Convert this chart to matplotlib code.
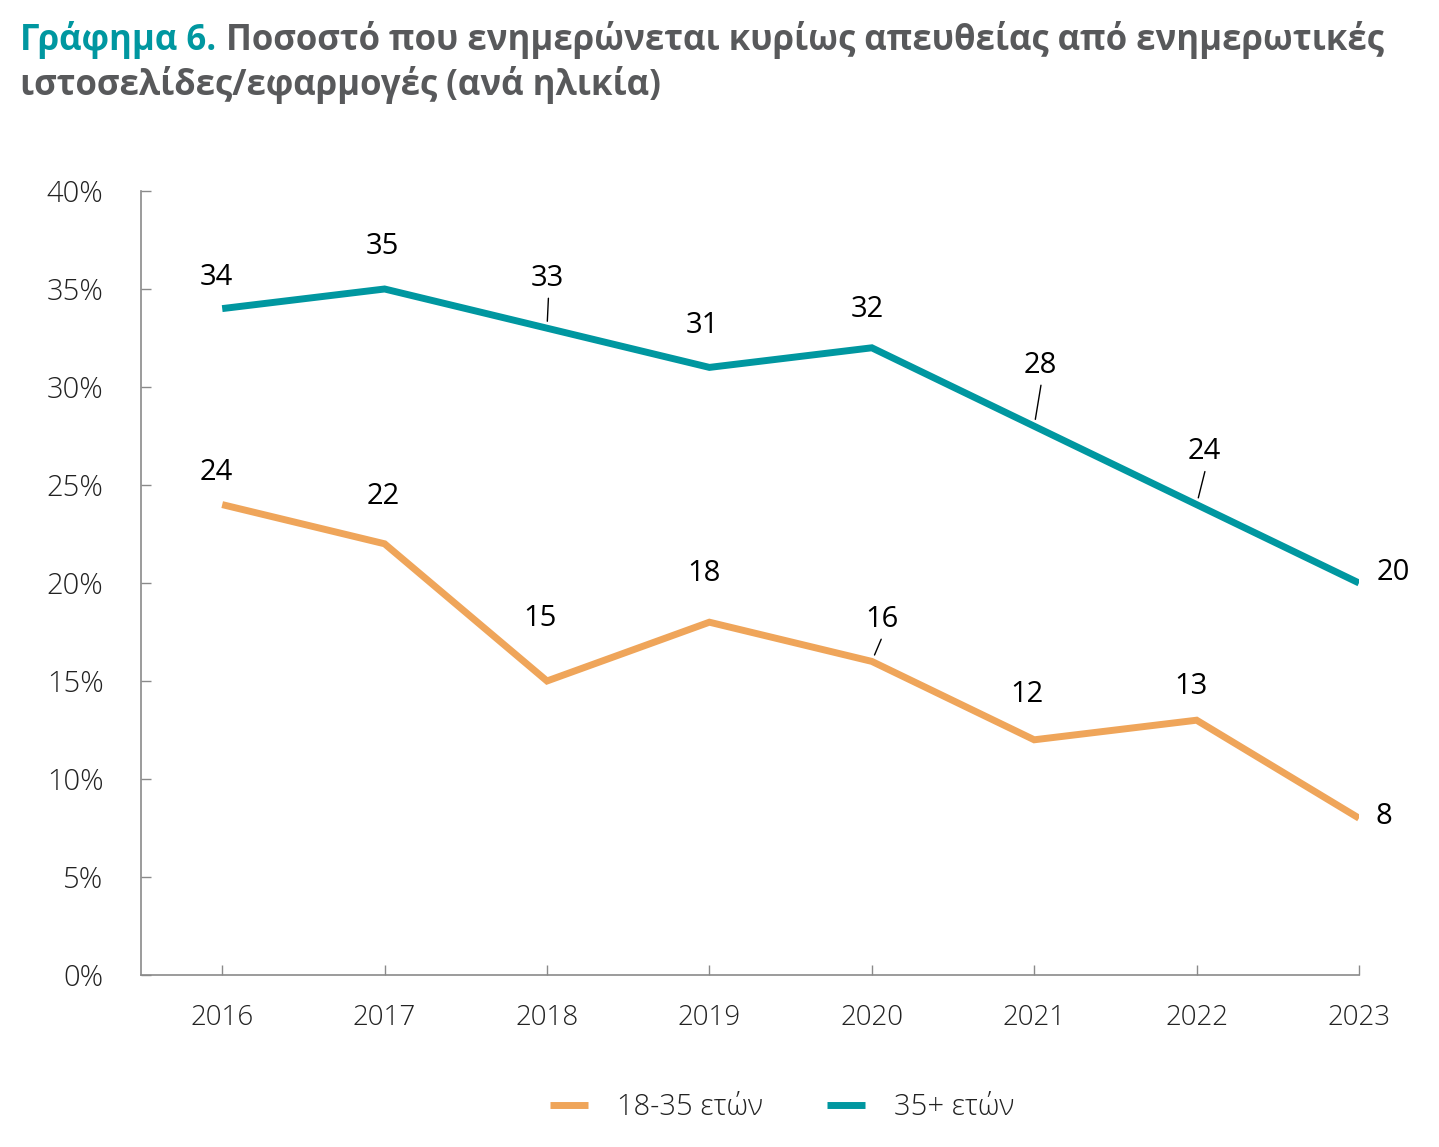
import matplotlib
matplotlib.use("Agg")
import matplotlib.pyplot as plt
import numpy as np

# data
years = ["2016", "2017", "2018", "2019", "2020", "2021", "2022", "2023"]
young = [24, 22, 15, 18, 16, 12, 13, 8]      # 18-35 ετών
older = [34, 35, 33, 31, 32, 28, 24, 20]     # 35+ ετών
series_names = ["18-35 ετών", "35+ ετών"]
yticks = [0, 5, 10, 15, 20, 25, 30, 35, 40]

ORANGE = "#EFA55A"
TEAL = "#0097A0"
GREY = "#8A8A8A"
TITLE_GREY = "#58595B"

# label offsets in pixels (dx, dy), and which labels get a leader line
off_older = [(-6, 31), (-2, 42), (0, 50), (-7, 42), (-4, 38), (6, 61), (8, 53), (34, 11)]
lead_older = [False, False, True, False, False, True, True, False]
off_young = [(-6, 32), (-1, 47), (-7, 63), (-5, 49), (10, 42), (-7, 45), (-6, 34), (25, 2)]
lead_young = [False, False, False, False, True, False, False, False]

plt.rcParams["font.family"] = ["Open Sans", "DejaVu Sans"]

fig = plt.figure(figsize=(14.39, 11.47), dpi=100)
ax = fig.add_axes([141 / 1439, 1 - 975 / 1147, (1359 - 141) / 1439, (975 - 191) / 1147])

x = np.arange(len(years))
ax.plot(x, young, color=ORANGE, lw=5, solid_capstyle="butt", solid_joinstyle="miter",
        label=series_names[0])
ax.plot(x, older, color=TEAL, lw=5, solid_capstyle="butt", solid_joinstyle="miter",
        label=series_names[1])


def label_series(vals, offs, leads):
    for i, v in enumerate(vals):
        dx, dy = offs[i]
        kw = {}
        if leads[i]:
            kw["arrowprops"] = dict(arrowstyle="-", lw=1, color="black",
                                    relpos=(0.55, 0.0), shrinkA=2, shrinkB=5)
        ax.annotate(str(v), xy=(i, v), xytext=(dx, dy), textcoords="offset pixels",
                    ha="center", va="center", fontsize=21, color="black", **kw)


label_series(older, off_older, lead_older)
label_series(young, off_young, lead_young)

ax.set_xlim(-0.5, len(years) - 1)
ax.set_ylim(0, 40)
ax.set_yticks(yticks)
ax.set_yticklabels([f"{t}%" for t in yticks])
ax.set_xticks(x)
ax.set_xticklabels(years)

for s in ["top", "right"]:
    ax.spines[s].set_visible(False)
for s in ["left", "bottom"]:
    ax.spines[s].set_color(GREY)
    ax.spines[s].set_linewidth(1.2)
ax.tick_params(axis="y", direction="in", length=7, width=1, color=GREY, pad=27,
               labelsize=21, labelcolor="#222222")
ax.tick_params(axis="x", direction="in", length=7, width=1, color=GREY, pad=21,
               labelsize=20, labelcolor="#222222")
for lab in ax.get_yticklabels() + ax.get_xticklabels():
    lab.set_fontweight("light")

leg = fig.legend(loc="center", bbox_to_anchor=(782 / 1439, 1 - 1107 / 1147), ncol=2,
                 frameon=False, fontsize=21, handlelength=1.3, handletextpad=1.0,
                 columnspacing=2.2)
for h in leg.get_lines():
    h.set_linewidth(5)
for t in leg.get_texts():
    t.set_color("#222222")
    t.set_fontweight("light")

# two-colour title
r = fig.canvas.get_renderer()
t1 = fig.text(20 / 1439, 1 - 40 / 1147, "Γράφημα 6.", color=TEAL, fontsize=25,
              fontweight="bold", va="center", ha="left")
bb = t1.get_window_extent(renderer=r)
fig.text((bb.x1 + 10) / 1439, 1 - 40 / 1147,
         "Ποσοστό που ενημερώνεται κυρίως απευθείας από ενημερωτικές",
         color=TITLE_GREY, fontsize=25, fontweight="bold", va="center", ha="left")
fig.text(20 / 1439, 1 - 85 / 1147, "ιστοσελίδες/εφαρμογές (ανά ηλικία)",
         color=TITLE_GREY, fontsize=25, fontweight="bold", va="center", ha="left")

fig.savefig("out.png", dpi=100)
